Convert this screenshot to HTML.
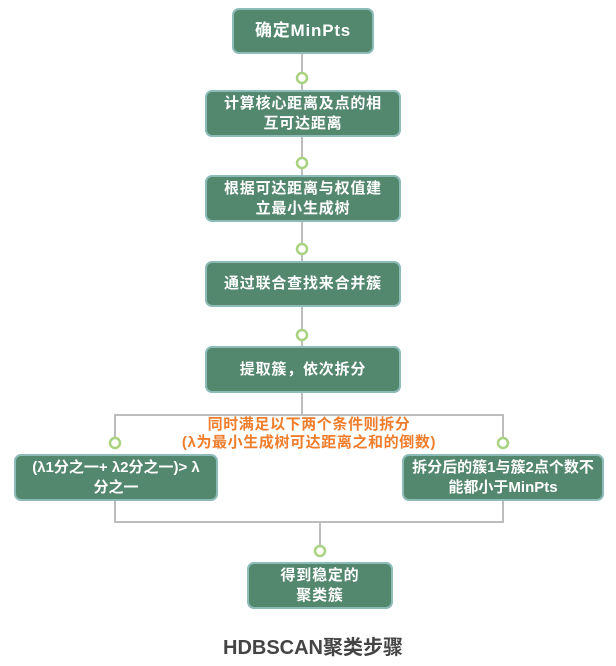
<!DOCTYPE html>
<html><head><meta charset="utf-8"><style>
html,body{margin:0;padding:0;background:#fff;}
body{width:616px;height:666px;position:relative;overflow:hidden;font-family:"Liberation Sans","Noto Sans CJK SC",sans-serif;}
.b{position:absolute;box-sizing:border-box;background:#53876e;border:2px solid #8dbcb8;border-radius:7px;color:#fff;font-weight:bold;font-size:15px;letter-spacing:0.8px;line-height:20px;display:flex;align-items:center;justify-content:center;text-align:center;}
.o{position:absolute;color:#ef7d2c;font-weight:bold;font-size:15px;letter-spacing:0.6px;line-height:18px;text-align:center;width:400px;left:109px;}
</style></head><body>
<svg width="616" height="666" style="position:absolute;left:0;top:0">
<g stroke="#bdbdbd" stroke-width="2" fill="none">
<line x1="302" y1="53" x2="302" y2="90"/>
<line x1="302" y1="137" x2="302" y2="175"/>
<line x1="302" y1="222" x2="302" y2="261"/>
<line x1="302" y1="307" x2="302" y2="346"/>
<line x1="302" y1="393" x2="302" y2="415"/>
<polyline points="115,443 115,415 503,415 503,443"/>
<polyline points="115,500 115,522 503,522 503,500"/>
<line x1="320" y1="522" x2="320" y2="551"/>
</g>
<g stroke="#a8d27f" stroke-width="2.5" fill="#fff">
<circle cx="302" cy="78" r="5"/>
<circle cx="302" cy="163" r="5"/>
<circle cx="302" cy="249" r="5"/>
<circle cx="302" cy="335" r="5"/>
<circle cx="115" cy="443" r="5"/>
<circle cx="503" cy="443" r="5"/>
<circle cx="320" cy="551" r="5"/>
</g>
</svg>
<div class="b" style="left:232px;top:8px;width:142px;height:46px;font-size:17px;">确定MinPts</div>
<div class="b" style="left:205px;top:90px;width:196px;height:47px;">计算核心距离及点的相<br>互可达距离</div>
<div class="b" style="left:205px;top:175px;width:196px;height:47px;">根据可达距离与权值建<br>立最小生成树</div>
<div class="b" style="left:205px;top:261px;width:196px;height:46px;">通过联合查找来合并簇</div>
<div class="b" style="left:205px;top:346px;width:196px;height:47px;">提取簇，依次拆分</div>
<div class="o" style="top:416px;">同时满足以下两个条件则拆分<br>(λ为最小生成树可达距离之和的倒数)</div>
<div class="b" style="left:14px;top:454px;width:204px;height:47px;letter-spacing:0;">(λ1分之一+ λ2分之一)&gt; λ<br>分之一</div>
<div class="b" style="left:402px;top:454px;width:202px;height:47px;letter-spacing:0;">拆分后的簇1与簇2点个数不<br>能都小于MinPts</div>
<div class="b" style="left:247px;top:562px;width:146px;height:47px;">得到稳定的<br>聚类簇</div>
<div style="position:absolute;left:180px;width:266px;top:635px;text-align:center;font-size:20px;font-weight:bold;color:#444;line-height:26px;">HDBSCAN聚类步骤</div>
</body></html>
